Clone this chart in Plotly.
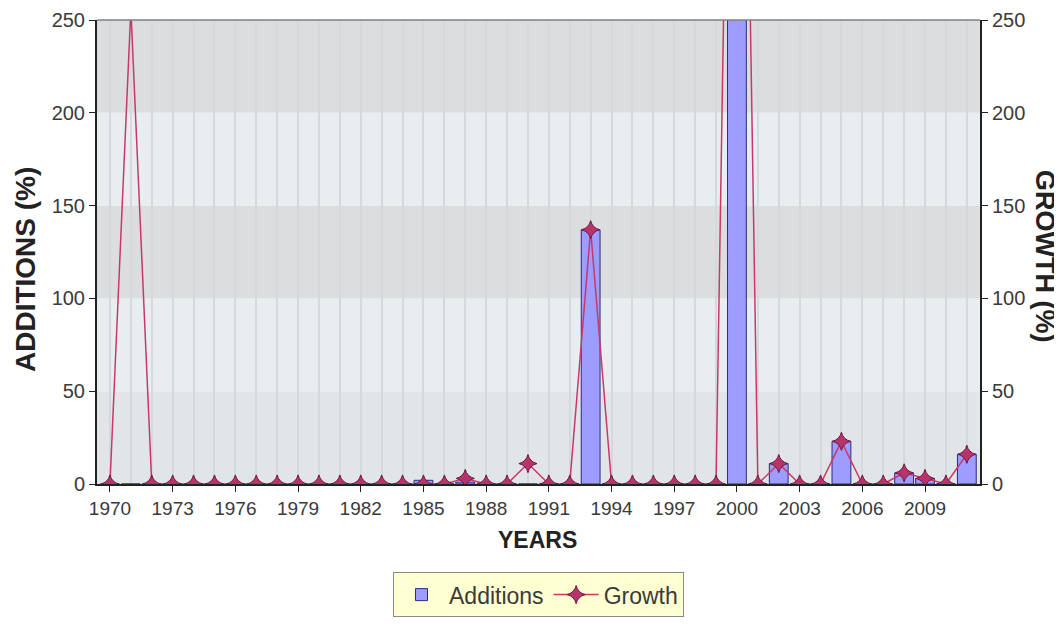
import plotly.graph_objects as go

years = list(range(1970, 2012))
additions = [0, 0, 0, 0, 0, 0, 0, 0, 0, 0,
             0, 0, 0, 0, 0, 2, 0, 1, 0, 0,
             0, 0, 0, 137, 0, 0, 0, 0, 0, 0,
             700, 0, 11, 0, 0, 23, 0, 0, 6, 3,
             0, 16]
growth = [0, 256, 0, 0, 0, 0, 0, 0, 0, 0,
          0, 0, 0, 0, 0, 0, 0, 3, 0, 0,
          11, 0, 0, 137, 0, 0, 0, 0, 0, 0,
          700, 0, 11, 0, 0, 23, 0, 0, 6, 3,
          0, 16]
tick_years = list(range(1970, 2010, 3))
y_ticks = [0, 50, 100, 150, 200, 250]

FONT = "Liberation Sans, Arial, sans-serif"

fig = go.Figure()
fig.add_trace(go.Bar(
    x=years, y=additions, name="Additions",
    marker=dict(color="#9d9dff", line=dict(color="#2a2a80", width=1)),
    width=0.9, yaxis="y",
))
fig.add_trace(go.Scatter(
    x=years, y=growth, name="Growth", mode="lines+markers",
    line=dict(color="#c8386a", width=1.5),
    marker=dict(symbol="star-diamond", size=13, color="#b8336b",
                line=dict(color="#6a1a40", width=1)),
    yaxis="y2", cliponaxis=True,
))

# alternating background bands
band_colors = ["#e2e5e8", "#e8edf0", "#dcdddf", "#e8edf0", "#dcdddf"]
for i in range(5):
    fig.add_shape(type="rect", xref="paper", yref="y", x0=0, x1=1,
                  y0=i * 50, y1=(i + 1) * 50, layer="below", line_width=0,
                  fillcolor=band_colors[i])

fig.update_layout(
    width=1062, height=624,
    margin=dict(l=89, r=90, t=12, b=148),
    paper_bgcolor="white", plot_bgcolor="rgba(0,0,0,0)",
    font=dict(family=FONT, size=20, color="#3a3a3a"),
    showlegend=True,
    legend=dict(orientation="h", x=0.5, xanchor="center", y=-0.19, yanchor="top",
                bgcolor="#ffffd2", bordercolor="#8a8a8a", borderwidth=1,
                itemwidth=45, font=dict(size=23, color="#3a3a3a")),
    bargap=0.1,
    xaxis=dict(
        range=[1969.38, 2011.63], tickmode="array", tickvals=tick_years,
        ticks="outside", ticklen=6, tickcolor="#222", showline=True,
        linecolor="#222", linewidth=2, showgrid=False, zeroline=False,
        automargin=False, tickfont=dict(size=19),
        minor=dict(tickmode="linear", tick0=1970, dtick=1, showgrid=True,
                   gridcolor="#d4d9dd", gridwidth=1.5, ticks=""),
    ),
    yaxis=dict(
        range=[0, 250], tickvals=y_ticks, ticks="outside", ticklen=6,
        tickcolor="#222", showline=True, linecolor="#222", linewidth=2,
        showgrid=False, zeroline=False, automargin=False, tickfont=dict(size=20),
        ticklabeloverflow="allow",
    ),
    yaxis2=dict(
        range=[0, 250], tickvals=y_ticks, ticks="outside", ticklen=6,
        tickcolor="#222", showline=True, linecolor="#222", linewidth=2,
        showgrid=False, zeroline=False, overlaying="y", side="right",
        automargin=False, tickfont=dict(size=20), ticklabeloverflow="allow",
    ),
)
# top border
fig.add_shape(type="line", xref="paper", yref="paper", x0=0, x1=1, y0=1, y1=1,
              line=dict(color="#808080", width=1.5))
fig.add_annotation(text="<b>ADDITIONS (%)</b>", xref="paper", yref="paper",
                   x=0.0, xshift=-72, y=0.5, yshift=-18, xanchor="center", yanchor="middle",
                   textangle=-90, showarrow=False,
                   font=dict(size=28, color="#222", family=FONT))
fig.add_annotation(text="<b>GROWTH (%)</b>", xref="paper", yref="paper",
                   x=1.0, xshift=65, y=0.5, yshift=-4, xanchor="center", yanchor="middle",
                   textangle=90, showarrow=False,
                   font=dict(size=27, color="#222", family=FONT))
fig.add_annotation(text="<b>YEARS</b>", xref="paper", yref="paper",
                   x=0.5, xshift=-1, y=0.0, yshift=-56, xanchor="center", yanchor="middle",
                   showarrow=False, font=dict(size=23, color="#222", family=FONT))

fig.write_html("out.html")
